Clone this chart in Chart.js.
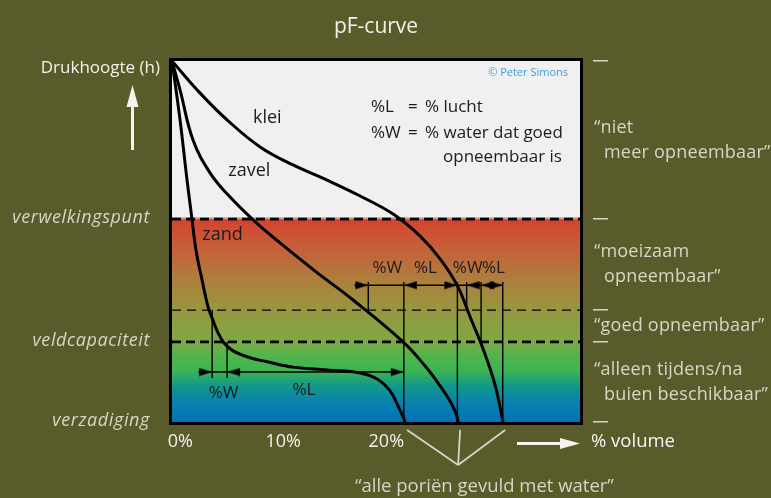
<!DOCTYPE html>
<html>
<head>
<meta charset="utf-8">
<script src="https://cdn.jsdelivr.net/npm/chart.js@4.4.1/dist/chart.umd.min.js"></script>
<style>
  html, body { margin: 0; padding: 0; background: #5a5b2b; }
</style>
</head>
<body>
<canvas id="pf-chart" width="771" height="498"></canvas>
<script>
/* pF-curve: x = % volume, y = relative suction (0 = saturated, 100 = top of frame) */

var xTicks = [0, 10, 20];

var kleiX = [-0.8, 1.93, 4.54, 7.75, 10.95, 14.25, 17.46, 20.66, 23.28, 25.22, 26.87, 28.14, 29.4, 30.56, 31.34];
var kleiY = [100, 91.1, 83.7, 76.2, 71.2, 67.0, 62.6, 57.6, 51.5, 45.2, 37.9, 29.1, 20.2, 10.2, 0];

var zavelX = [-0.8, -0.02, 1.24, 2.89, 4.54, 7.07, 9.69, 13.09, 16.78, 21.63, 23.77, 25.22, 26.19, 26.78, 26.97];
var zavelY = [100, 92.0, 78.1, 69.0, 63.2, 56.0, 49.6, 41.8, 33.8, 22.2, 15.5, 10.0, 5.8, 2.2, 0];

var zandX = [-0.8, -0.02, 0.66, 1.15, 1.53, 2.12, 2.7, 3.09, 3.67, 4.25, 5.13, 6.78, 8.43, 10.95, 14.25, 17.46, 19.11, 20.37, 21.15, 21.63, 21.83];
var zandY = [100, 83.7, 67.0, 56.0, 47.6, 39.3, 31.9, 28.8, 24.7, 21.9, 19.7, 17.8, 16.7, 15.2, 14.4, 13.6, 11.9, 8.6, 4.4, 1.4, 0];

// verwelkingspunt, grens goed opneembaar, veldcapaciteit
var levelY = [56.2, 31.0, 22.2];
var levelNames = ['verwelkingspunt', '', 'veldcapaciteit'];
var bottomName = 'verzadiging';

// measuring lines (%W / %L)
var vertX = [18.25, 21.7, 26.9, 27.8, 29.2, 31.3, 3.1, 4.55];
var vertTop = [38.8, 38.8, 38.8, 38.8, 38.8, 38.8, 31.0, 22.2];
var vertBottom = [31.0, 0, 0, 31.0, 22.2, 0, 12.2, 12.2];

var rowY = [37.9, 13.85];
var rowFrom = [16.9, 1.75];
var rowTo = [31.3, 21.7];

var headX = [18.25, 21.7, 26.9, 27.8, 29.2, 31.3, 3.1, 4.55, 21.7];
var headY = [37.9, 37.9, 37.9, 37.9, 37.9, 37.9, 13.85, 13.85, 13.85];
var headDir = ['r', 'l', 'r', 'l', 'l', 'r', 'r', 'l', 'r'];

var measureText = ['%W', '%L', '%W', '%L', '%W', '%L'];
var measureX = [20.1, 23.8, 27.9, 30.4, 4.2, 12.0];
var measureY = [42.7, 42.7, 42.7, 42.7, 8.0, 8.9];

var soilNames = ['klei', 'zavel', 'zand'];
var soilLabelX = [8.45, 6.7, 4.1];
var soilLabelY = [84.2, 69.5, 51.8];

var zoneLines = [['\u201Cniet', 'meer opneembaar\u201D'], ['\u201Cmoeizaam', 'opneembaar\u201D'],
                 ['\u201Cgoed opneembaar\u201D'], ['\u201Calleen tijdens/na', 'buien beschikbaar\u201D']];
var zoneEdges = [100, 56.2, 31.0, 22.2, 0];

var FONT = '"Open Sans", "DejaVu Sans", sans-serif';
var INK = '#1c1c1c';
var PALE = '#d6d6c6';

function pts(xs, ys) {
  return xs.map(function(x, i) { return { x: x, y: ys[i] }; });
}

function makeHead(dir) {
  var c = document.createElement('canvas');
  c.width = 28; c.height = 9;
  var g = c.getContext('2d');
  g.fillStyle = '#000';
  g.beginPath();
  g.moveTo(14, 4.5);
  if (dir === 'r') { g.lineTo(1, 0.5); g.lineTo(1, 8.5); }
  else { g.lineTo(27, 0.5); g.lineTo(27, 8.5); }
  g.closePath();
  g.fill();
  return c;
}
var headR = makeHead('r'), headL = makeHead('l');

var datasets = [];

// horizontal limits
levelY.forEach(function(v, i) {
  datasets.push({
    data: [{ x: -0.8, y: v }, { x: 38.8, y: v }],
    showLine: true, pointRadius: 0,
    borderColor: '#000',
    borderWidth: i === 1 ? 1.3 : 2.6,
    borderDash: i === 1 ? [9, 6] : [9, 5]
  });
});

// soil curves
[[kleiX, kleiY], [zavelX, zavelY], [zandX, zandY]].forEach(function(c) {
  datasets.push({
    data: pts(c[0], c[1]),
    showLine: true, pointRadius: 0,
    borderColor: '#000', borderWidth: 3,
    tension: 0.4
  });
});

// vertical measuring lines
vertX.forEach(function(x, i) {
  datasets.push({
    data: [{ x: x, y: vertTop[i] }, { x: x, y: vertBottom[i] }],
    showLine: true, pointRadius: 0,
    borderColor: '#000', borderWidth: 1.4
  });
});

// horizontal measuring lines
rowY.forEach(function(y, i) {
  datasets.push({
    data: [{ x: rowFrom[i], y: y }, { x: rowTo[i], y: y }],
    showLine: true, pointRadius: 0,
    borderColor: '#000', borderWidth: 1.4
  });
});

// arrow heads
datasets.push({
  data: pts(headX, headY),
  showLine: false,
  pointRadius: 6,
  pointStyle: function(ctx) { return headDir[ctx.dataIndex] === 'r' ? headR : headL; }
});

function txt(ctx, s, x, y, font, color, align, spacing) {
  ctx.font = font;
  ctx.fillStyle = color;
  ctx.textAlign = align || 'left';
  ctx.textBaseline = 'middle';
  if ('letterSpacing' in ctx) ctx.letterSpacing = spacing || '0px';
  ctx.fillText(s, x, y);
  if ('letterSpacing' in ctx) ctx.letterSpacing = '0px';
}

var decor = {
  id: 'pfDecor',
  beforeDatasetsDraw: function(chart) {
    var ctx = chart.ctx, a = chart.chartArea, ys = chart.scales.y;
    var wy = ys.getPixelForValue(levelY[0]);
    ctx.save();
    ctx.fillStyle = '#f0f0f0';
    ctx.fillRect(a.left, a.top, a.right - a.left, wy - a.top);
    var g = ctx.createLinearGradient(0, wy, 0, a.bottom);
    g.addColorStop(0, '#d4432f');
    g.addColorStop(0.15, '#c5613a');
    g.addColorStop(0.3, '#ad7f3d');
    g.addColorStop(0.45, '#97973f');
    g.addColorStop(0.6, '#7fa845');
    g.addColorStop(0.68, '#4db64c');
    g.addColorStop(0.75, '#3db353');
    g.addColorStop(0.82, '#12998a');
    g.addColorStop(0.9, '#0a82ad');
    g.addColorStop(1, '#0072b8');
    ctx.fillStyle = g;
    ctx.fillRect(a.left, wy, a.right - a.left, a.bottom - wy);
    ctx.fillStyle = '#e99a86';
    ctx.fillRect(a.left, wy - 2, a.right - a.left, 2);
    ctx.restore();
  },
  afterDatasetsDraw: function(chart) {
    var ctx = chart.ctx, a = chart.chartArea, xs = chart.scales.x, ys = chart.scales.y;
    ctx.save();
    // in-plot labels
    soilNames.forEach(function(n, i) {
      txt(ctx, n, xs.getPixelForValue(soilLabelX[i]), ys.getPixelForValue(soilLabelY[i]),
        '18px ' + FONT, INK, 'center');
    });
    measureText.forEach(function(s, i) {
      txt(ctx, s, xs.getPixelForValue(measureX[i]), ys.getPixelForValue(measureY[i]),
        '17px ' + FONT, INK, 'center');
    });
    txt(ctx, '%L', 371, 107, '17px ' + FONT, INK);
    txt(ctx, '=', 408, 107, '17px ' + FONT, INK);
    txt(ctx, '% lucht', 425, 107, '17px ' + FONT, INK);
    txt(ctx, '%W', 371, 133, '17px ' + FONT, INK);
    txt(ctx, '=', 408, 133, '17px ' + FONT, INK);
    txt(ctx, '% water dat goed', 425, 133, '17px ' + FONT, INK);
    txt(ctx, 'opneembaar is', 443, 157, '17px ' + FONT, INK);
    txt(ctx, '\u00A9 Peter Simons', a.right - 12, 73, '11px ' + FONT, '#3aa0d8', 'right');
    // frame
    ctx.strokeStyle = '#000';
    ctx.lineWidth = 3;
    ctx.strokeRect(a.left - 1.5, a.top - 1.5, a.right - a.left + 3, a.bottom - a.top + 3);
    ctx.restore();
  },
  afterDraw: function(chart) {
    var ctx = chart.ctx, xs = chart.scales.x, ys = chart.scales.y;
    ctx.save();
    // left side
    txt(ctx, 'Drukhoogte (h)', 160, 68, '17px ' + FONT, '#f2f2ea', 'right');
    ctx.fillStyle = '#f5f5f0';
    ctx.fillRect(131, 104, 3, 46);
    ctx.beginPath();
    ctx.moveTo(132.5, 85); ctx.lineTo(138.5, 107); ctx.lineTo(126.5, 107); ctx.closePath();
    ctx.fill();
    levelNames.forEach(function(n, i) {
      if (n) txt(ctx, n, 150, ys.getPixelForValue(levelY[i]) - 1, 'italic 18px ' + FONT, PALE, 'right', '0.6px');
    });
    txt(ctx, bottomName, 150, ys.getPixelForValue(0) - 1, 'italic 18px ' + FONT, PALE, 'right', '0.6px');

    // right side
    ctx.fillStyle = PALE;
    zoneEdges.forEach(function(v) {
      ctx.fillRect(593, Math.round(ys.getPixelForValue(v)) - 1, 15, 1.5);
    });
    zoneLines.forEach(function(lines, i) {
      var mid = (ys.getPixelForValue(zoneEdges[i]) + ys.getPixelForValue(zoneEdges[i + 1])) / 2;
      var y0 = mid - (lines.length - 1) * 12.5;
      lines.forEach(function(s, j) {
        txt(ctx, s, j === 0 ? 594 : 604, y0 + j * 25, '18px ' + FONT, PALE, 'left', '0.2px');
      });
    });

    // x-axis arrow + name
    ctx.fillStyle = '#f5f5f0';
    ctx.fillRect(517, 442, 46, 3);
    ctx.beginPath();
    ctx.moveTo(580, 443.5); ctx.lineTo(560, 438); ctx.lineTo(560, 449); ctx.closePath();
    ctx.fill();
    txt(ctx, '% volume', 591, 442, '18.5px ' + FONT, '#f5f5f0');

    // saturation pointers
    var ends = [zandX[zandX.length - 1], zavelX[zavelX.length - 1], kleiX[kleiX.length - 1]];
    var cx = xs.getPixelForValue(ends[1]);
    ctx.strokeStyle = PALE;
    ctx.lineWidth = 1.8;
    ends.forEach(function(v) {
      ctx.beginPath();
      ctx.moveTo(xs.getPixelForValue(v) + 2, 430);
      ctx.lineTo(cx, 465);
      ctx.stroke();
    });
    txt(ctx, '\u201Calle pori\u00EBn gevuld met water\u201D', 355, 487, '18.5px ' + FONT, PALE);
    ctx.restore();
  }
};

new Chart(document.getElementById('pf-chart'), {
  type: 'scatter',
  data: { datasets: datasets },
  plugins: [decor],
  options: {
    responsive: false,
    animation: false,
    devicePixelRatio: 1,
    layout: { padding: { left: 172, right: 191, top: 0, bottom: 0 } },
    plugins: {
      legend: { display: false },
      tooltip: { enabled: false },
      title: {
        display: true,
        text: 'pF-curve',
        color: '#f2f2ea',
        font: { family: FONT, size: 21, weight: 'normal' },
        padding: { top: 14, bottom: 21.8 }
      }
    },
    scales: {
      x: {
        type: 'linear',
        min: -0.8, max: 38.8,
        afterBuildTicks: function(s) { s.ticks = xTicks.map(function(v) { return { value: v }; }); },
        afterFit: function(s) { s.height = 76; },
        grid: { display: false, drawTicks: false },
        border: { display: false },
        ticks: {
          color: '#f2f2ea',
          font: { family: FONT, size: 18 },
          padding: 9,
          maxRotation: 0,
          autoSkip: false,
          callback: function(v) { return v + '%'; }
        }
      },
      y: { display: false, min: 0, max: 100 }
    }
  }
});
</script>
</body>
</html>
